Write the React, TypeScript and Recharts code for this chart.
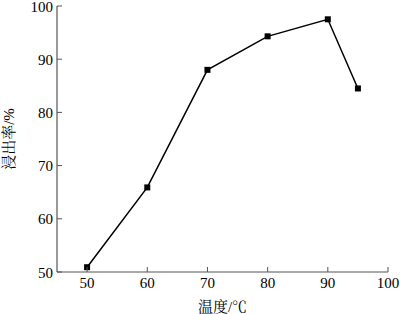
import React from 'react';
import { LineChart, Line, XAxis, YAxis } from 'recharts';

const temperatures = [50, 60, 70, 80, 90, 95];
const leachingRates = [50.9, 65.9, 88.0, 94.3, 97.5, 84.5];
const xTicks = [50, 60, 70, 80, 90, 100];
const yTicks = [50, 60, 70, 80, 90, 100];

const data = temperatures.map((t, i) => ({ t, v: leachingRates[i] }));

const FONT = '"Liberation Serif", "Times New Roman", "Noto Serif CJK SC", "Noto Sans CJK SC", serif';
const AXIS_COLOR = '#555';

const XTick = (props: any) => {
  const { x, y, payload } = props;
  return (
    <g>
      <line x1={x} y1={y} x2={x} y2={y - 5} stroke={AXIS_COLOR} strokeWidth={1} />
      <text x={x} y={y + 16} textAnchor="middle" fontSize={15} fontFamily={FONT} fill="#000">
        {payload.value}
      </text>
    </g>
  );
};

const YTick = (props: any) => {
  const { x, y, payload } = props;
  return (
    <g>
      <line x1={x} y1={y} x2={x + 5} y2={y} stroke={AXIS_COLOR} strokeWidth={1} />
      <text x={x - 4} y={y + 5.5} textAnchor="end" fontSize={15} fontFamily={FONT} fill="#000">
        {payload.value}
      </text>
    </g>
  );
};

const SquareDot = (props: any) => {
  const { cx, cy } = props;
  if (cx == null || cy == null) return null;
  return <rect x={cx - 3} y={cy - 3} width={6} height={6} fill="#000" />;
};

export default function App() {
  return (
    <div style={{ position: 'absolute', left: 0, top: 0, width: 400, height: 314, background: '#fff' }}>
      <LineChart width={400} height={314} data={data} margin={{ top: 6, right: 12, bottom: 0, left: 0 }}>
        <XAxis
          dataKey="t"
          type="number"
          domain={[45, 100]}
          ticks={xTicks}
          interval={0}
          tickSize={0}
          tickMargin={0}
          tick={<XTick />}
          axisLine={{ stroke: AXIS_COLOR, strokeWidth: 1.2 }}
          height={42}
          label={{ value: '温度/℃', position: 'insideBottom', offset: 2, fontSize: 15, fontFamily: FONT, fill: '#000' }}
        />
        <XAxis
          xAxisId="top"
          dataKey="t"
          type="number"
          domain={[45, 100]}
          orientation="top"
          tick={false}
          tickLine={false}
          height={0}
          axisLine={{ stroke: AXIS_COLOR, strokeWidth: 1.2 }}
        />
        <YAxis
          type="number"
          domain={[50, 100]}
          ticks={yTicks}
          interval={0}
          tickSize={0}
          tickMargin={0}
          tick={<YTick />}
          width={57}
          axisLine={{ stroke: AXIS_COLOR, strokeWidth: 1.2 }}
          label={{ value: '浸出率/%', angle: -90, position: 'insideLeft', offset: 9, fontSize: 15, fontFamily: FONT, fill: '#000', style: { textAnchor: 'middle' } }}
        />
        <YAxis
          yAxisId="right"
          type="number"
          domain={[50, 100]}
          orientation="right"
          tick={false}
          tickLine={false}
          width={0}
          axisLine={{ stroke: AXIS_COLOR, strokeWidth: 1.2 }}
        />
        <Line
          dataKey="v"
          stroke="#000"
          strokeWidth={1.5}
          dot={<SquareDot />}
          activeDot={false}
          isAnimationActive={false}
        />
      </LineChart>
    </div>
  );
}
